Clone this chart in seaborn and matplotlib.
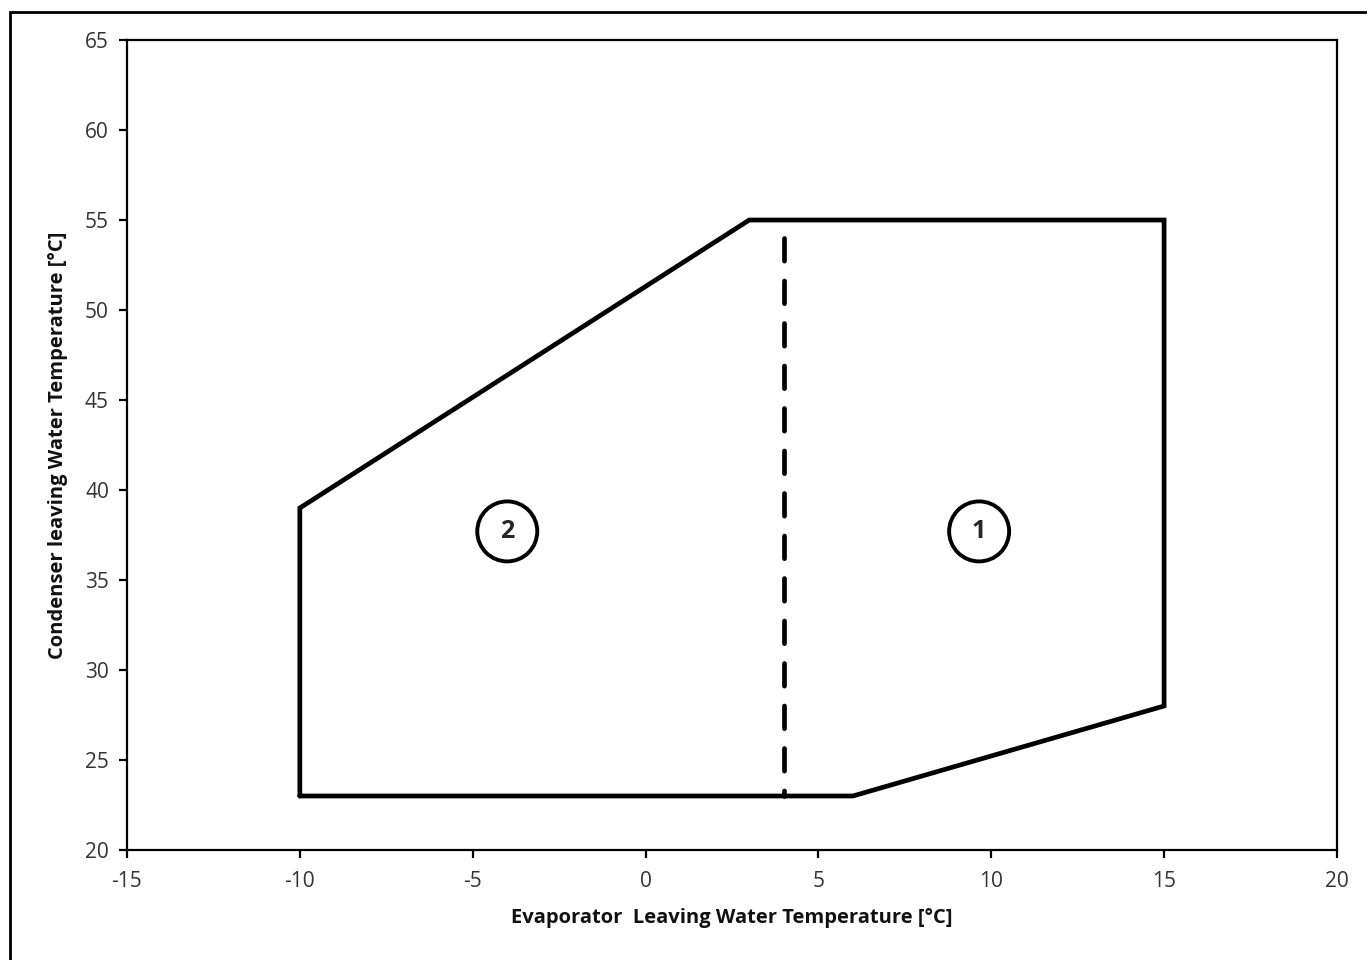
import numpy as np
import matplotlib
matplotlib.use("Agg")
import matplotlib.pyplot as plt
import pandas as pd
import seaborn as sns
from matplotlib.patches import Rectangle

# operating envelope (boundary polygon)
envelope_x = [-10, -10, 3, 15, 15, 6, -10]
envelope_y = [23, 39, 55, 55, 28, 23, 23]

# separation between zone 1 and zone 2 (drawn top-down)
divider_x = [4, 4]
divider_y = [54, 23]

zone_labels = ["2", "1"]
zone_x = [-4.0, 9.65]
zone_y = [37.7, 37.7]

x_ticks = [-15, -10, -5, 0, 5, 10, 15, 20]
y_ticks = [20, 25, 30, 35, 40, 45, 50, 55, 60, 65]

sns.set_style("white")
plt.rcParams["font.family"] = ["Open Sans", "DejaVu Sans"]
plt.rcParams["axes.unicode_minus"] = False

fig = plt.figure(figsize=(13.67, 9.6), dpi=100)
ax = fig.add_axes([0.0929, 0.1146, 0.8851, 0.8437])

env = pd.DataFrame({"x": envelope_x, "y": envelope_y})
sns.lineplot(data=env, x="x", y="y", sort=False, estimator=None,
             color="black", lw=3.4, ax=ax)
ax.lines[-1].set_solid_joinstyle("miter")

div = pd.DataFrame({"x": divider_x, "y": divider_y})
sns.lineplot(data=div, x="x", y="y", sort=False, estimator=None,
             color="black", lw=3.4, ax=ax)
ax.lines[-1].set_dashes([4.8, 4.2])
ax.lines[-1].set_dash_capstyle("round")

for lab, zx, zy in zip(zone_labels, zone_x, zone_y):
    ax.text(zx, zy, lab, ha="center", va="center", fontsize=18,
            fontweight="bold",
            bbox=dict(boxstyle="circle,pad=0.7", fc="white", ec="black", lw=2.8))

ax.set_xlim(-15, 20)
ax.set_ylim(20, 65)
ax.set_xticks(x_ticks)
ax.set_yticks(y_ticks)
ax.tick_params(axis="both", direction="out", length=6, width=1.6,
               bottom=True, left=True,
               labelsize=15, colors="black", labelcolor="#333333", pad=7)
ax.tick_params(axis="x", pad=9)
for sp in ax.spines.values():
    sp.set_linewidth(1.6)
    sp.set_color("black")

ax.set_xlabel("Evaporator  Leaving Water Temperature [°C]", fontsize=14.5,
              fontweight="bold", labelpad=12, color="#111111")
ax.set_ylabel("Condenser leaving Water Temperature [°C]", fontsize=14.5,
              fontweight="bold", labelpad=12, color="#111111")

# outer chart frame
fig.patches.append(Rectangle((10 / 1367, -0.1), 1.2, 0.1 + (960 - 12) / 960,
                             transform=fig.transFigure, fill=False,
                             ec="black", lw=2))

fig.savefig("out.png", dpi=100)
